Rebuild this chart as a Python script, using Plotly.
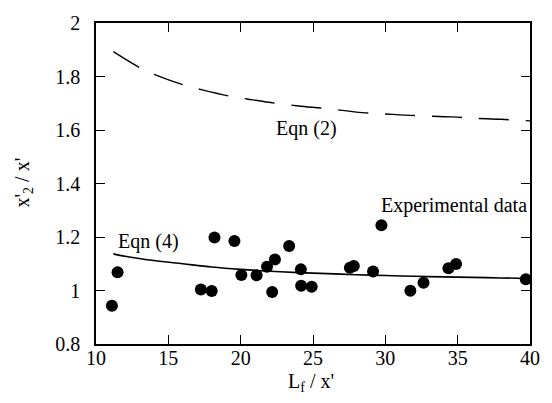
import plotly.graph_objects as go

# Experimental data
exp_x = [11.10, 11.49, 17.25, 18.00, 18.19, 19.57, 20.05, 21.10, 21.82, 22.18, 22.37, 23.35,
         24.16, 24.18, 24.91, 27.55, 27.82, 29.15, 29.73, 31.73, 32.64, 34.36, 34.89, 39.71]
exp_y = [0.943, 1.068, 1.004, 0.998, 1.198, 1.185, 1.058, 1.057, 1.089, 0.994, 1.116, 1.166,
         1.079, 1.018, 1.014, 1.085, 1.092, 1.071, 1.244, 0.999, 1.029, 1.083, 1.099, 1.042]

# Eqn (4) curve
eq4_x = [11.2, 12, 14, 16, 18, 20, 22, 24, 26, 28, 30, 32, 34, 36, 38, 40]
eq4_y = [1.137, 1.128, 1.112, 1.100, 1.088, 1.079, 1.072, 1.067, 1.063, 1.059, 1.056, 1.053,
         1.051, 1.049, 1.047, 1.045]

# Eqn (2) curve
eq2_x = [11.2, 13.1, 14.24, 16.19, 17.34, 19.29, 20.44, 22.39, 24, 26, 28.4, 30, 32, 34.6, 36, 38, 40]
eq2_y = [1.893, 1.831, 1.803, 1.766, 1.750, 1.726, 1.716, 1.700, 1.690, 1.680, 1.665, 1.660,
         1.654, 1.649, 1.644, 1.640, 1.634]

FONT = "Liberation Serif"

fig = go.Figure()
fig.add_trace(go.Scatter(x=eq2_x, y=eq2_y, mode="lines", line_shape="spline",
                         line=dict(color="black", width=1.4, dash="30px,17px"),
                         showlegend=False, hoverinfo="skip"))
fig.add_trace(go.Scatter(x=eq4_x, y=eq4_y, mode="lines", line_shape="spline",
                         line=dict(color="black", width=1.6),
                         showlegend=False, hoverinfo="skip"))
fig.add_trace(go.Scatter(x=exp_x, y=exp_y, mode="markers",
                         marker=dict(color="black", size=12),
                         cliponaxis=False, showlegend=False))

axis_common = dict(showline=True, linecolor="black", linewidth=1.5, mirror="allticks",
                   ticks="inside", ticklen=9, tickwidth=1.3, tickcolor="black",
                   showgrid=False, zeroline=False,
                   tickfont=dict(family=FONT, size=20, color="black"))

fig.update_xaxes(range=[10, 40], dtick=5, tick0=10, ticklabelstandoff=-5, **axis_common)
fig.update_yaxes(range=[0.8, 2], dtick=0.2, tick0=0.8, ticklabelstandoff=10, **axis_common)

ann_font = dict(family=FONT, size=20, color="black")
fig.add_annotation(x=22.3, y=1.607, text="Eqn (2)", showarrow=False, xref="x", yref="y",
                   xanchor="left", yanchor="middle", font=ann_font)
fig.add_annotation(x=11.4, y=1.182, text="Eqn (4)", showarrow=False, xref="x", yref="y",
                   xanchor="left", yanchor="middle", font=ann_font)
fig.add_annotation(x=39.95, y=1.318, text="Experimental data", showarrow=False, xref="x", yref="y",
                   xanchor="right", yanchor="middle", font=ann_font)

# axis titles
fig.add_annotation(x=(312 - 96) / 437, y=-(383 - 344) / 321, xref="paper", yref="paper",
                   text="L<sub>f</sub> / x'", showarrow=False, xanchor="center", yanchor="middle",
                   font=ann_font)
fig.add_annotation(x=-(96 - 22) / 437, y=(344 - 183) / 321, xref="paper", yref="paper",
                   text="x'<sub>2</sub> / x'", showarrow=False, xanchor="center", yanchor="middle",
                   textangle=-90, font=ann_font)

fig.update_layout(width=552, height=403, margin=dict(l=96, r=19, t=23, b=59),
                  paper_bgcolor="white", plot_bgcolor="white",
                  font=dict(family=FONT, color="black"))

# remove the default page margin so the figure sits at the window's top-left corner
fig.write_html("out.html", config={"displayModeBar": False},
               post_script="document.body.style.margin='0';document.body.style.overflow='hidden';")
